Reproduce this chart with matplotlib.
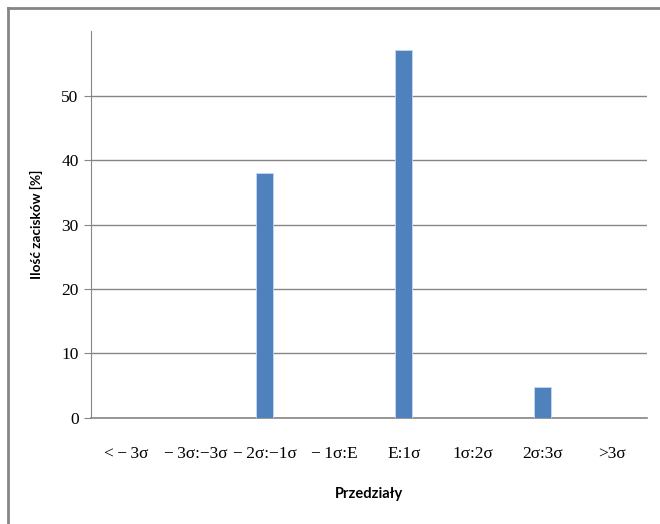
import numpy as np
import matplotlib
matplotlib.use("Agg")
import matplotlib.pyplot as plt
from matplotlib.lines import Line2D

# dane
kategorie = ["<\u2009\u2212\u20093σ", "\u2212\u20093σ:\u22123σ", "\u2212\u20092σ:\u22121σ",
             "\u2212\u20091σ:E", "E:1σ", "1σ:2σ", "2σ:3σ", ">3σ"]
wartosci = [0, 0, 38, 0, 57, 0, 4.8, 0]
y_ticks = [0, 10, 20, 30, 40, 50]

fig = plt.figure(figsize=(6.6, 5.24), dpi=100)
ax = fig.add_axes([0.1379, 0.2023, 0.8424, 0.7385])

x = np.arange(len(kategorie))
ax.bar(x, wartosci, width=0.25, color="#4F81BD", edgecolor="#C6D9F1",
       linewidth=0.6, zorder=3)

ax.set_xlim(-0.5, len(kategorie) - 0.5)
ax.set_ylim(0, 60)
ax.set_yticks(y_ticks)
ax.grid(axis="y", color="#868686", linewidth=1.0, zorder=0)

for s in ["top", "right"]:
    ax.spines[s].set_visible(False)
ax.spines["left"].set_color("#868686")
ax.spines["bottom"].set_color("#868686")
ax.spines["bottom"].set_linewidth(1.2)

ax.set_xticks(x)
ax.set_xticklabels(kategorie, family="Liberation Serif", fontsize=12.5)
ax.tick_params(axis="x", length=0, pad=20)
ax.tick_params(axis="y", length=5, color="#868686", pad=4)
for lab in ax.get_yticklabels():
    lab.set_family("Liberation Serif")
    lab.set_fontsize(12.5)

ax.set_xlabel("Przedziały", family="Lato", fontweight="bold", fontsize=10.5,
              labelpad=18)
ax.set_ylabel("Ilość zacisków [%]", family="Lato", fontweight="bold",
              fontsize=9.8, labelpad=13)

# ramka obszaru wykresu (widoczna tylko u góry i z lewej)
fig.add_artist(Line2D([7.5 / 660, 1], [1 - 7.5 / 524, 1 - 7.5 / 524],
                      transform=fig.transFigure, color="#868686", linewidth=2))
fig.add_artist(Line2D([7.5 / 660, 7.5 / 660], [0, 1 - 7.5 / 524],
                      transform=fig.transFigure, color="#868686", linewidth=2))

fig.savefig("out.png", dpi=100)
